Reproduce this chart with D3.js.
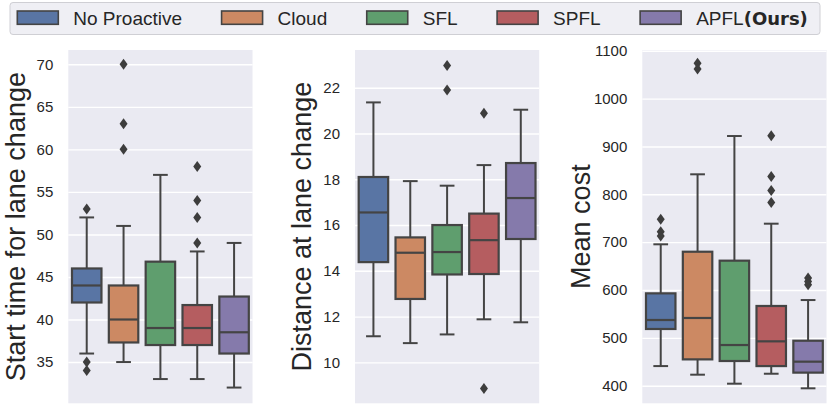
<!DOCTYPE html>
<html>
<head>
<meta charset="utf-8">
<script src="https://cdn.jsdelivr.net/npm/d3@7"></script>
<style>
  body { margin: 0; background: #fff; }
  svg { display: block; font-family: "Liberation Sans", Arial, sans-serif; }
</style>
</head>
<body>
<div id="chart"></div>
<script>
// methods, in plot order
const methods = ["No Proactive", "Cloud", "SFL", "SPFL", "APFL"];

// five-number summaries per method: [low whisker, q1, median, q3, high whisker]
const startStats = [
  [36, 42, 44, 46, 52],
  [35, 37.3, 40, 44, 51],
  [33, 37, 39, 46.8, 57],
  [33, 37, 39, 41.7, 48],
  [32, 36, 38.5, 42.7, 49]
];
const startOutliers = [[53, 35, 34], [70, 63, 60], [], [58, 54, 52, 49], []];
const startTicks = [35, 40, 45, 50, 55, 60, 65, 70];

const distStats = [
  [11.14, 14.38, 16.55, 18.1, 21.36],
  [10.84, 12.77, 14.79, 15.46, 17.92],
  [11.22, 13.84, 14.82, 16.0, 17.72],
  [11.88, 13.86, 15.34, 16.5, 18.62],
  [11.75, 15.39, 17.18, 18.71, 21.04]
];
const distOutliers = [[], [], [22.97, 21.9], [20.89, 8.86], []];
const distTicks = [10, 12, 14, 16, 18, 20, 22];

const costStats = [
  [441, 518.5, 537.3, 593, 695.5],
  [423, 455, 541.5, 680, 841.8],
  [404.2, 451.6, 485, 661.3, 921.8],
  [425, 441, 492.7, 566.6, 738.6],
  [394.5, 427.3, 450.2, 494, 579]
];
const costOutliers = [[748, 722, 713], [1074, 1062], [], [922.5, 837, 808, 783], [625, 618, 611]];
const costTicks = [400, 500, 600, 700, 800, 900, 1000, 1100];

const palette = ["#5975a4", "#cc8963", "#5f9e6e", "#b55d60", "#857aab"];
const lineColor = "#444444";

const W = 831, H = 409;
const svg = d3.select("#chart").append("svg")
  .attr("width", W).attr("height", H)
  .attr("viewBox", `0 0 ${W} ${H}`);

const panels = [
  { stats: startStats, outliers: startOutliers, ticks: startTicks, domain: [30.15, 71.68],
    label: "Start time for lane change", left: 68.3, labelGap: 43.3 },
  { stats: distStats, outliers: distOutliers, ticks: distTicks, domain: [8.21, 23.65],
    label: "Distance at lane change", left: 355, labelGap: 44 },
  { stats: costStats, outliers: costOutliers, ticks: costTicks, domain: [363.2, 1101.6],
    label: "Mean cost", left: 642.3, labelGap: 52.3 }
];
const plotW = 184.2, plotTop = 50, plotBottom = 403.3;

const diamond = "M0,-5.5L4,0L0,5.5L-4,0Z";

panels.forEach(p => {
  const g = svg.append("g");
  const x = d3.scaleBand().domain(methods).range([p.left, p.left + plotW]).padding(0);
  const y = d3.scaleLinear().domain(p.domain).range([plotBottom, plotTop]);

  g.append("rect")
    .attr("x", p.left).attr("y", plotTop)
    .attr("width", plotW).attr("height", plotBottom - plotTop)
    .attr("fill", "#eaeaf2");

  // y axis: white grid lines + tick labels
  const axis = d3.axisLeft(y).tickValues(p.ticks).tickFormat(d3.format("d"))
    .tickSize(-plotW).tickPadding(15);
  const ax = g.append("g").attr("transform", `translate(${p.left},0)`).call(axis);
  ax.select(".domain").remove();
  ax.selectAll(".tick line").attr("stroke", "#fff").attr("stroke-width", 1.4);
  ax.selectAll(".tick text")
    .attr("fill", "#262626")
    .style("font-size", "15px")
    .style("font-family", "'Liberation Sans', Arial, sans-serif");

  g.append("text")
    .attr("transform", `translate(${p.left - p.labelGap},${(plotTop + plotBottom) / 2}) rotate(-90)`)
    .attr("text-anchor", "middle")
    .attr("fill", "#262626")
    .style("font-size", "27px")
    .text(p.label);

  const bw = x.bandwidth() * 0.8;
  const boxes = g.selectAll(".box").data(p.stats).join("g").attr("class", "box")
    .attr("transform", (d, i) => `translate(${x(methods[i]) + x.bandwidth() / 2},0)`);

  // whiskers
  boxes.append("line")
    .attr("x1", 0).attr("x2", 0)
    .attr("y1", d => y(d[3])).attr("y2", d => y(d[4]))
    .attr("stroke", lineColor).attr("stroke-width", 2);
  boxes.append("line")
    .attr("x1", 0).attr("x2", 0)
    .attr("y1", d => y(d[1])).attr("y2", d => y(d[0]))
    .attr("stroke", lineColor).attr("stroke-width", 2);
  // caps
  [0, 4].forEach(k => {
    boxes.append("line")
      .attr("x1", -bw / 4).attr("x2", bw / 4)
      .attr("y1", d => y(d[k])).attr("y2", d => y(d[k]))
      .attr("stroke", lineColor).attr("stroke-width", 2);
  });
  // box
  boxes.append("rect")
    .attr("x", -bw / 2).attr("width", bw)
    .attr("y", d => y(d[3])).attr("height", d => y(d[1]) - y(d[3]))
    .attr("fill", (d, i) => palette[i])
    .attr("stroke", lineColor).attr("stroke-width", 2.2);
  // median
  boxes.append("line")
    .attr("x1", -bw / 2).attr("x2", bw / 2)
    .attr("y1", d => y(d[2])).attr("y2", d => y(d[2]))
    .attr("stroke", lineColor).attr("stroke-width", 2.2);
  // outliers
  boxes.each(function (d, i) {
    d3.select(this).selectAll("path.fl").data(p.outliers[i]).join("path")
      .attr("class", "fl")
      .attr("d", diamond)
      .attr("transform", v => `translate(0,${y(v)})`)
      .attr("fill", "#3d3d3d");
  });
});

// legend
const leg = svg.append("g");
leg.append("rect")
  .attr("x", 10).attr("y", 2.5).attr("width", 810).attr("height", 32).attr("rx", 3)
  .attr("fill", "#efeff4").attr("stroke", "#cfcfd4").attr("stroke-width", 1);

let lx = 17.3;
methods.forEach((m, i) => {
  leg.append("rect")
    .attr("x", lx).attr("y", 11).attr("width", 41).attr("height", 13.3)
    .attr("fill", palette[i]).attr("stroke", lineColor).attr("stroke-width", 1.6);
  const t = leg.append("text")
    .attr("x", lx + 56).attr("y", 24.5)
    .attr("fill", "#262626")
    .style("font-size", "19px");
  if (m === "APFL") {
    t.append("tspan").text("APFL");
    t.append("tspan").text("(Ours)")
      .style("font-weight", "bold")
      .style("font-family", "'DejaVu Sans', sans-serif")
      .style("font-size", "18px");
  } else {
    t.text(m);
  }
  lx = lx + 56 + t.node().getComputedTextLength() + 39.5;
});
</script>
</body>
</html>
